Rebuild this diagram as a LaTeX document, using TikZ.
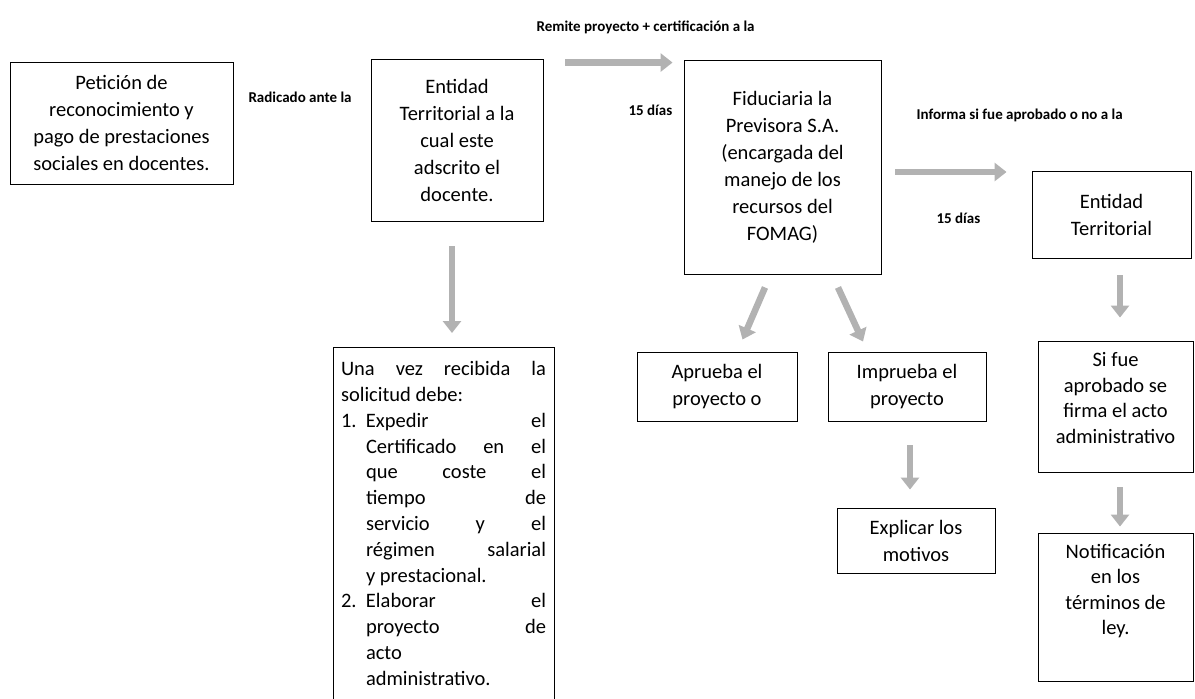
\documentclass[tikz,border=0pt]{standalone}
\usepackage{fontspec}
\setmainfont{Carlito}
\usetikzlibrary{arrows.meta, calc}

\begin{document}
\begin{tikzpicture}[x=1pt, y=-1pt,
  box/.style={draw, line width=0.9pt, align=center, inner sep=6pt,
              font=\fontsize{20.5}{27}\selectfont},
  fat/.style={line width=6.5pt, draw=gray!60, -{Triangle[width=18pt,length=12pt]}},
  lab/.style={font=\fontsize{15}{18}\selectfont\bfseries, anchor=west}]
\useasboundingbox (0,0) rectangle (1195,699);
\clip (0,0) rectangle (1195,699);
\node[box, minimum width=223pt, minimum height=122pt] (pet) at (121.5,123)
    {Petición de\\ reconocimiento y\\ pago de prestaciones\\ sociales en docentes.};
\node[box, minimum width=172pt, minimum height=162pt] (ent) at (457,140)
    {Entidad\\ Territorial a la\\ cual este\\ adscrito el\\ docente.};
\node[box, minimum width=197pt, minimum height=214pt] (fid) at (782.5,167)
    {Fiduciaria la\\ Previsora S.A.\\ (encargada del\\ manejo de los\\ recursos del\\ FOMAG)};
\node[box, minimum width=159pt, minimum height=87pt] (ent2) at (1111.5,214.5)
    {Entidad\\ Territorial};
\node[box, anchor=north, align=justify, text width=205pt, inner xsep=8pt, inner ysep=14pt,
      font=\fontsize{20.5}{25.8}\selectfont] (una) at (443.5,347)
    {Una vez recibida la\linebreak solicitud debe:\par
     \hangindent=25pt\hangafter=1\makebox[25pt][l]{1.}Expedir el\linebreak
     Certificado en el\linebreak que coste el\linebreak tiempo de\linebreak
     servicio y el\linebreak régimen salarial\linebreak y prestacional.\par
     \hangindent=25pt\hangafter=1\makebox[25pt][l]{2.}Elaborar el\linebreak
     proyecto de\linebreak acto\linebreak administrativo.\par\vspace*{30pt}};
\node[box, minimum width=160pt, minimum height=69pt] (apr) at (717,386.5)
    {Aprueba el\\ proyecto o};
\node[box, minimum width=158pt, minimum height=69pt] (imp) at (907,386.5)
    {Imprueba el\\ proyecto};
\node[box, minimum width=158pt, minimum height=65pt] (expl) at (916,540.5)
    {Explicar los\\ motivos};
\node[box, minimum width=155pt, minimum height=131pt,
      font=\fontsize{20.5}{25.5}\selectfont] (sif) at (1115.5,406.5)
    {Si fue\\ aprobado se\\ firma el acto\\ administrativo\\[-8pt]\mbox{}};
\node[box, minimum width=155pt, minimum height=148pt,
      font=\fontsize{20.5}{25.5}\selectfont] (noti) at (1115.5,607)
    {Notificación\\ en los\\ términos de\\ ley.\\[10pt]\mbox{}};
\node[lab] (rad) at (245,97) {Radicado ante la};
\node[lab] (rem) at (533,27) {Remite proyecto + certificación a la};
\node[lab] (dias1) at (625,110) {15 días};
\node[lab] (inf) at (913,115) {Informa si fue aprobado o no a la};
\node[lab] (dias2) at (933,218) {15 días};
\draw[fat] ($(ent.north east)+(22,4)$) -- ($(fid.north west)+(-11,3)$);
\draw[fat] ($(fid.east)+(14,5)$) -- ($(ent2.west)+(-25,-42.5)$);
\draw[fat] ($(ent.south)+(-5,25)$) -- ($(una.north)+(8.5,-14)$);
\draw[fat] ($(fid.south)+(-17.5,13)$) -- ($(apr.north)+(25.5,-12)$);
\draw[fat] ($(fid.south)+(55.5,13)$) -- ($(imp.north)+(-44,-10)$);
\draw[fat] ($(ent2.south)+(8.5,17)$) -- ($(sif.north)+(4.5,-23)$);
\draw[fat] ($(imp.south)+(3,24)$) -- ($(expl.north)+(-6,-18)$);
\draw[fat] ($(sif.south)+(4.5,15)$) -- ($(noti.north)+(4.5,-6)$);
\end{tikzpicture}
\end{document}
